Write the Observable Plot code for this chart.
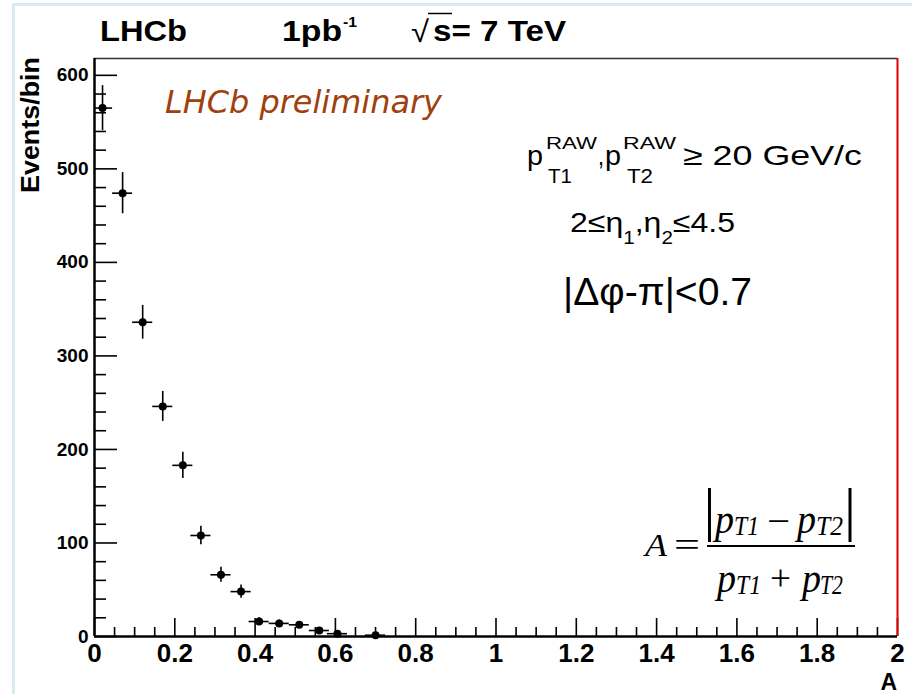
<!DOCTYPE html>
<html><head><meta charset="utf-8">
<script src="https://cdn.jsdelivr.net/npm/d3@7"></script>
<script src="https://cdn.jsdelivr.net/npm/@observablehq/plot@0.6"></script>
<style>
body{margin:0;background:#fff}
#chart{position:relative;width:912px;height:694px;overflow:hidden}
</style>
</head><body><div id="chart"></div>
<script>
// ---- data ----
const binCenters   = [0.02, 0.07, 0.12, 0.17, 0.22, 0.265, 0.315, 0.365, 0.41, 0.46, 0.51, 0.56, 0.605, 0.70];
const events       = [565, 474, 336, 246, 183, 108, 66, 48, 16, 14, 12.5, 6.4, 3, 1.4];
const eventErr     = [24, 22, 18, 16, 14, 10, 8, 7, 4, 3.7, 3.5, 2.5, 1.7, 1.2];
const binHalfWidth = [0.025, 0.025, 0.025, 0.025, 0.025, 0.025, 0.025, 0.025, 0.025, 0.025, 0.025, 0.025, 0.025, 0.025];
const yMajorTicks  = [0, 100, 200, 300, 400, 500, 600];
const yMinorTicks  = [20, 40, 60, 80, 120, 140, 160, 180, 220, 240, 260, 280, 320, 340, 360, 380, 420, 440, 460, 480, 520, 540, 560, 580];
const xMajorTicks  = [0, 0.2, 0.4, 0.6, 0.8, 1, 1.2, 1.4, 1.6, 1.8, 2];
const xTickLabels  = ["0", "0.2", "0.4", "0.6", "0.8", "1", "1.2", "1.4", "1.6", "1.8", "2"];
const xMinorTicks  = d3.range(0.05, 2, 0.05).filter(v => Math.abs(v / 0.2 - Math.round(v / 0.2)) > 1e-6);
const yMax = 618;

const W = 912, H = 694;
const mL = 94, mR = 15, mT = 58, mB = 58;
const frameW = W - mL - mR, frameH = H - mT - mB;

const data = binCenters.map((x, i) => ({x, y: events[i], ey: eventErr[i], ex: binHalfWidth[i]}));
const SANS = "'Liberation Sans', Arial, Helvetica, sans-serif";
const SERIF = "'Liberation Serif', 'Times New Roman', serif";

const plot = Plot.plot({
  width: W, height: H,
  marginLeft: mL, marginRight: mR, marginTop: mT, marginBottom: mB,
  style: {fontFamily: SANS, background: "white", color: "black", overflow: "visible"},
  x: {domain: [0, 2]},
  y: {domain: [0, yMax]},
  marks: [
    Plot.tickY(yMinorTicks, {y: d => d, insetRight: frameW - 12, strokeWidth: 1.6}),
    Plot.tickY(yMajorTicks, {y: d => d, insetRight: frameW - 23, strokeWidth: 1.6}),
    Plot.tickX(xMinorTicks, {x: d => d, insetTop: frameH - 9, strokeWidth: 1.6}),
    Plot.tickX(xMajorTicks, {x: d => d, insetTop: frameH - 18, strokeWidth: 1.6}),
    Plot.ruleY([yMax], {stroke: "#333", strokeWidth: 1.5}),
    Plot.ruleX([2], {stroke: "#e00000", strokeWidth: 2}),
    Plot.ruleX([0], {strokeWidth: 2.5}),
    Plot.ruleY([0], {strokeWidth: 2.5}),
    Plot.axisY({ticks: yMajorTicks, tickSize: 0, tickPadding: 6, fontSize: 19, fontWeight: "bold", label: null}),
    Plot.axisX({ticks: xMajorTicks, tickSize: 0, tickPadding: 7, fontSize: 26, fontWeight: "bold", label: null,
                tickFormat: d => xTickLabels[xMajorTicks.indexOf(d)]}),
    Plot.ruleY(data, {y: "y", x1: d => d.x - d.ex, x2: d => d.x + d.ex, strokeWidth: 1.6, clip: true}),
    Plot.ruleX(data, {x: "x", y1: d => d.y - d.ey, y2: d => d.y + d.ey, strokeWidth: 1.6}),
    Plot.dot(data, {x: "x", y: "y", r: 4, fill: "black", stroke: "none"})
  ]
});

document.getElementById("chart").appendChild(plot);
const svg = d3.select(plot);
const g = svg.append("g").attr("text-anchor", "start");

// slide border (light blue)
g.append("rect").attr("x", 12).attr("y", 3).attr("width", 900).attr("height", 3).attr("fill", "#d6ecf0");
g.append("rect").attr("x", 12).attr("y", 3).attr("width", 3).attr("height", 691).attr("fill", "#d6ecf0");

function txt(s, x, y, o = {}) {
  const t = g.append("text").attr("x", x).attr("y", y).text(s)
    .attr("font-family", o.family || SANS)
    .attr("font-size", o.size || 20)
    .attr("font-weight", o.weight || "normal")
    .attr("font-style", o.style || "normal")
    .attr("fill", o.fill || "black")
    .attr("text-anchor", o.anchor || "start");
  if (o.w) t.attr("textLength", o.w).attr("lengthAdjust", "spacingAndGlyphs");
  if (o.transform) t.attr("transform", o.transform);
  return t;
}
function line(x1, y1, x2, y2, w, c = "black") {
  g.append("line").attr("x1", x1).attr("y1", y1).attr("x2", x2).attr("y2", y2)
    .attr("stroke", c).attr("stroke-width", w);
}

// header
txt("LHCb", 100, 41, {size: 29, weight: "bold", w: 87});
txt("1pb", 282, 41, {size: 29, weight: "bold", w: 60});
txt("-1", 343, 27, {size: 15, weight: "bold", w: 14});
txt("\u221A", 411, 42, {size: 30, w: 18});
line(428, 13.5, 452, 13.5, 1.5);
txt("s= 7 TeV", 433, 41, {size: 29, weight: "bold", w: 133});

// y title
txt("Events/bin", 39, 57, {size: 26, weight: "bold", anchor: "end", w: 136, transform: "rotate(-90,39,57)"});
// x title
txt("A", 897, 690, {size: 23, weight: "bold", anchor: "end"});

// LHCb preliminary
txt("LHCb preliminary", 165, 113, {family: "'DejaVu Sans', Verdana, sans-serif", size: 32, style: "italic", fill: "#a0400e", w: 277});

// cut line 1
txt("p", 527, 165, {size: 28, w: 16});
txt("RAW", 546, 149, {size: 17, w: 51});
txt("T1", 548, 183, {size: 21, w: 24});
txt(",", 598, 165, {size: 28, w: 6});
txt("p", 605, 165, {size: 28, w: 16});
txt("RAW", 623, 149, {size: 17, w: 53});
txt("T2", 627, 183, {size: 21, w: 26});
txt("\u2265 20 GeV/c", 683, 165, {size: 28, w: 179});

// cut line 2 (single text, uniformly stretched)
{
  const t = txt("", 570, 232, {size: 28, w: 165});
  t.append("tspan").text("2\u2264\u03B7");
  t.append("tspan").attr("dy", 12).attr("font-size", 18).text("1");
  t.append("tspan").attr("dy", -12).text(",\u03B7");
  t.append("tspan").attr("dy", 12).attr("font-size", 18).text("2");
  t.append("tspan").attr("dy", -12).text("\u22644.5");
}

// cut line 3
txt("|\u0394\u03C6-\u03C0|<0.7", 563, 305, {size: 38, w: 189});

// formula A = |pT1 - pT2| / (pT1 + pT2)
txt("A", 645, 556, {family: SERIF, size: 32, style: "italic", w: 22});
txt("=", 674, 556, {family: SERIF, size: 34, w: 26});
line(707, 546, 855, 546, 2);
line(709.5, 488, 709.5, 542, 3);
line(850, 488, 850, 542, 3);
txt("p", 715, 533, {family: SERIF, size: 40, style: "italic", w: 19});
txt("T1", 734, 535, {family: SERIF, size: 27, style: "italic", w: 25});
txt("\u2212", 767, 533, {family: SERIF, size: 36, w: 23});
txt("p", 797, 533, {family: SERIF, size: 40, style: "italic", w: 19});
txt("T2", 816, 535, {family: SERIF, size: 27, style: "italic", w: 27});
txt("p", 717, 592, {family: SERIF, size: 40, style: "italic", w: 19});
txt("T1", 736, 594, {family: SERIF, size: 27, style: "italic", w: 25});
txt("+", 770, 590, {family: SERIF, size: 36, w: 21});
txt("p", 802, 592, {family: SERIF, size: 40, style: "italic", w: 19});
txt("T2", 820, 594, {family: SERIF, size: 27, style: "italic", w: 23});
</script>
</body></html>
